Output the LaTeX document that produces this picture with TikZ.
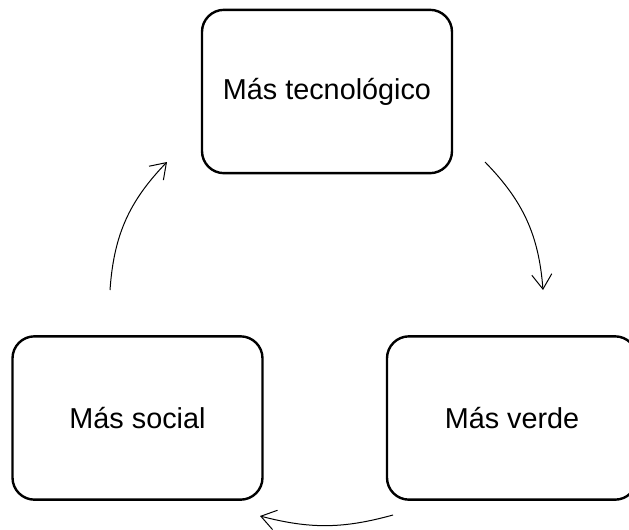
\documentclass[tikz,border=0pt]{standalone}
\usepackage{fontspec}
\setmainfont{Liberation Sans}
\usetikzlibrary{positioning}
\usetikzlibrary{arrows.meta}
\tikzset{
	etapa/.style={draw, line width=1.8pt, rounded corners=16.5pt, minimum width=187.5pt, minimum height=122.5pt, font=\fontsize{21.6}{26}\selectfont},
	ciclo/.style={-{Straight Barb[length=11pt,width=15pt]}, line width=0.75pt}
}
\begin{document}
\begin{tikzpicture}[x=0.75pt,y=-0.75pt]
		\useasboundingbox (0,0) rectangle (629,529);
		% Boxes
		\node [etapa] at (327,91.5) (tecnologico) {Más tecnológico};
		\node [etapa] at (137.5,418) (social) {Más social};
		\node [etapa] at (512,418) (verde) {Más verde};
		
		% Ends of the arrows
		\coordinate (a1) at (485,162); \coordinate (a2) at (543,290);
		\coordinate (b1) at (393,515); \coordinate (b2) at (260,516);
		\coordinate (c1) at (110,290); \coordinate (c2) at (167,162);
		
		% Arrows
		\draw [ciclo] (a1) to [bend left=20] (a2);
		\draw [ciclo] (b1) to [bend left=15] (b2);
		\draw [ciclo] (c1) to [bend left=20] (c2);
\end{tikzpicture}
\end{document}
